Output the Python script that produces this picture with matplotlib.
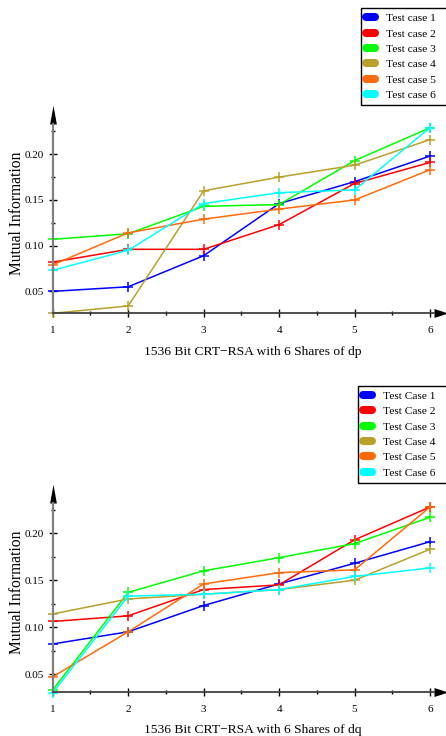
import matplotlib
matplotlib.use('Agg')
import matplotlib.pyplot as plt
from matplotlib.lines import Line2D
from matplotlib.ticker import MultipleLocator, FormatStrFormatter

plt.rcParams['font.family'] = ['Liberation Serif', 'DejaVu Serif']

# shares on the x axis
shares = [1, 2, 3, 4, 5, 6]

# mutual information, shares of dp
dp_case1 = [0.050, 0.055, 0.089, 0.146, 0.170, 0.198]
dp_case2 = [0.082, 0.096, 0.096, 0.123, 0.168, 0.191]
dp_case3 = [0.107, 0.113, 0.143, 0.145, 0.193, 0.229]
dp_case4 = [0.026, 0.034, 0.160, 0.175, 0.188, 0.216]
dp_case5 = [0.079, 0.114, 0.129, 0.140, 0.150, 0.183]
dp_case6 = [0.073, 0.095, 0.146, 0.158, 0.161, 0.229]

# mutual information, shares of dq
dq_case1 = [0.082, 0.095, 0.123, 0.146, 0.168, 0.191]
dq_case2 = [0.106, 0.112, 0.140, 0.145, 0.193, 0.228]
dq_case3 = [0.033, 0.137, 0.160, 0.174, 0.189, 0.217]
dq_case4 = [0.114, 0.130, 0.135, 0.140, 0.150, 0.183]
dq_case5 = [0.047, 0.095, 0.146, 0.158, 0.161, 0.228]
dq_case6 = [0.030, 0.133, 0.135, 0.140, 0.154, 0.163]

colors = ['#0000ff', '#ff0000', '#00ff00', '#b8a02a', '#ff6a0a', '#00ffff']
dp_labels = ['Test case %d' % i for i in range(1, 7)]
dq_labels = ['Test Case %d' % i for i in range(1, 7)]

W, H = 446, 736
fig = plt.figure(figsize=(W / 100, H / 100), dpi=100)


def px_axes(left, top, right, bottom):
    return fig.add_axes([left / W, 1 - bottom / H, (right - left) / W, (bottom - top) / H])


def setup(ax, series, ylo, yhi, xlabel, ylab_y, xlab_y, labels, leg_x, leg_y):
    for s, c in zip(series, colors):
        ax.plot(shares, s, color=c, lw=1.1, marker='+', ms=7.5, mew=1.1, clip_on=False)
    ax.set_xlim(1, 6.053)
    ax.set_ylim(ylo, yhi)
    for side in ['top', 'right']:
        ax.spines[side].set_visible(False)
    ax.spines['left'].set_color('#808080')
    ax.spines['left'].set_linewidth(1.6)
    ax.spines['bottom'].set_color('#404040')
    ax.spines['bottom'].set_linewidth(1.3)
    ax.xaxis.set_major_locator(MultipleLocator(1))
    ax.xaxis.set_minor_locator(MultipleLocator(0.5))
    ax.yaxis.set_major_locator(MultipleLocator(0.05))
    ax.yaxis.set_minor_locator(MultipleLocator(0.025))
    ax.yaxis.set_major_formatter(FormatStrFormatter('%.2f'))
    ax.tick_params(which='major', direction='inout', length=6, width=1, labelsize=8)
    ax.tick_params(which='minor', direction='inout', length=3, width=1)
    ax.tick_params(axis='x', pad=6)
    ax.tick_params(axis='y', pad=3)
    ax.patch.set_visible(False)
    # arrow heads
    ax.plot([0], [1], transform=ax.transAxes, clip_on=False, color='black', mew=0,
            marker=[(-0.18, 0), (0.18, 0), (0, 1)], ms=27)
    ax.plot([1], [0], transform=ax.transAxes, clip_on=False, color='black', mew=0,
            marker=[(0, -0.32), (0, 0.32), (1, 0)], ms=20)
    fig.text(17.5 / W, 1 - ylab_y / H, 'Mutual Information', rotation=90,
             ha='center', va='center', fontsize=11.2)
    fig.text(252.5 / W, 1 - xlab_y / H, xlabel, ha='center', va='baseline', fontsize=9.7)
    handles = [Line2D([], [], color=c, lw=5.8, solid_capstyle='round') for c in colors]
    top = 1 - leg_y / H
    fig.legend(handles, labels, loc='upper left', mode='expand',
               bbox_to_anchor=(leg_x / W, top - 0.01, (452 - leg_x) / W, 0.01),
               fontsize=8.2, frameon=True, fancybox=False, edgecolor='black', framealpha=1,
               borderaxespad=0, handlelength=0.8, handletextpad=0.95, labelspacing=0.47,
               borderpad=0.45)


ax1 = px_axes(52.7, 124, 434, 313.3)
setup(ax1, [dp_case1, dp_case2, dp_case3, dp_case4, dp_case5, dp_case6],
      0.026, 0.2331, '1536 Bit CRT\u2212RSA with 6 Shares of dp', 213.4, 355,
      dp_labels, 360.7, 8.3)

ax2 = px_axes(52.7, 502.7, 434, 692.3)
setup(ax2, [dq_case1, dq_case2, dq_case3, dq_case4, dq_case5, dq_case6],
      0.0305, 0.2326, '1536 Bit CRT\u2212RSA with 6 Shares of dq', 592.4, 733,
      dq_labels, 358, 386)

fig.savefig('out.png', dpi=100)
